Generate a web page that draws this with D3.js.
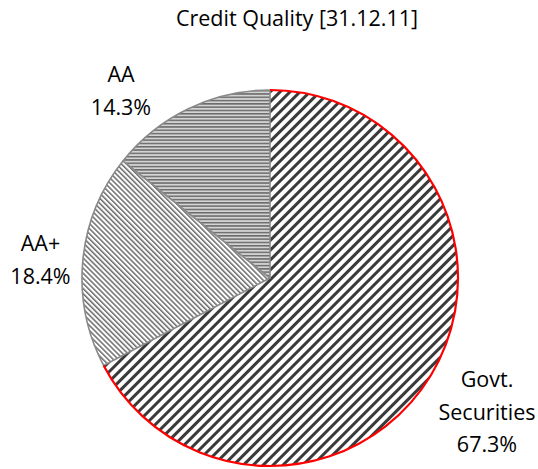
<!DOCTYPE html>
<html><head><meta charset="utf-8">
<script src="https://cdn.jsdelivr.net/npm/d3@7"></script>
<style>body{margin:0;background:#fff}svg{display:block}text{font-family:"Open Sans",Lato,sans-serif;fill:#000}</style>
</head><body><svg id="c" width="538" height="469"></svg>
<script>
const title = "Credit Quality [31.12.11]";
const categories = ["Govt. Securities", "AA+", "AA"];
const values = [67.3, 18.4, 14.3];
const labelLines = [["Govt.", "Securities", "67.3%"], ["AA+", "18.4%"], ["AA", "14.3%"]];

const svg = d3.select("#c");
const defs = svg.append("defs");
const p0 = defs.append("pattern").attr("id","p0").attr("patternUnits","userSpaceOnUse")
  .attr("width",7).attr("height",7).attr("patternTransform","rotate(45)");
p0.append("rect").attr("width",7).attr("height",7).attr("fill","#fff");
p0.append("rect").attr("width",3).attr("height",7).attr("fill","#3a3a3a");
const p1 = defs.append("pattern").attr("id","p1").attr("patternUnits","userSpaceOnUse")
  .attr("width",3.6).attr("height",4).attr("patternTransform","rotate(-45)");
p1.append("rect").attr("width",3.6).attr("height",4).attr("fill","#fff");
p1.append("rect").attr("width",1.5).attr("height",4).attr("fill","#6a6a6a");
const p2 = defs.append("pattern").attr("id","p2").attr("patternUnits","userSpaceOnUse")
  .attr("width",4).attr("height",3.3);
p2.append("rect").attr("width",4).attr("height",3.3).attr("fill","#d4d4d4");
p2.append("rect").attr("width",4).attr("height",1.5).attr("fill","#6a6a6a");

const cx = 270, cy = 278, r = 188;
const pie = d3.pie().sort(null).value(d => d)(values);
const arc = d3.arc().innerRadius(0).outerRadius(r);
const outer = d3.arc().innerRadius(r).outerRadius(r);
const g = svg.append("g").attr("transform",`translate(${cx},${cy})`);
g.append("path").attr("d", arc(pie[0])).attr("fill","url(#p0)");
[1,2].forEach(i => {
  g.append("path").attr("d", arc(pie[i])).attr("fill",`url(#p${i})`)
    .attr("stroke", "#8a8a8a").attr("stroke-width", 1.6).attr("stroke-linejoin","round");
});
g.append("path").attr("d", outer(pie[0])).attr("fill","none")
  .attr("stroke","#ff0000").attr("stroke-width",2.2);

svg.append("text").attr("x",297).attr("y",26).attr("text-anchor","middle")
  .attr("font-size",21.5).text(title);

const labelPos = [[487, 387], [40.5, 251], [121, 82]];
const lh = 32.5;
labelLines.forEach((lines, i) => {
  const t = svg.append("text").attr("text-anchor","middle").attr("font-size",21.5);
  lines.forEach((s, j) => {
    t.append("tspan").attr("x", labelPos[i][0]).attr("y", labelPos[i][1] + j*lh).text(s);
  });
});
</script></body></html>
